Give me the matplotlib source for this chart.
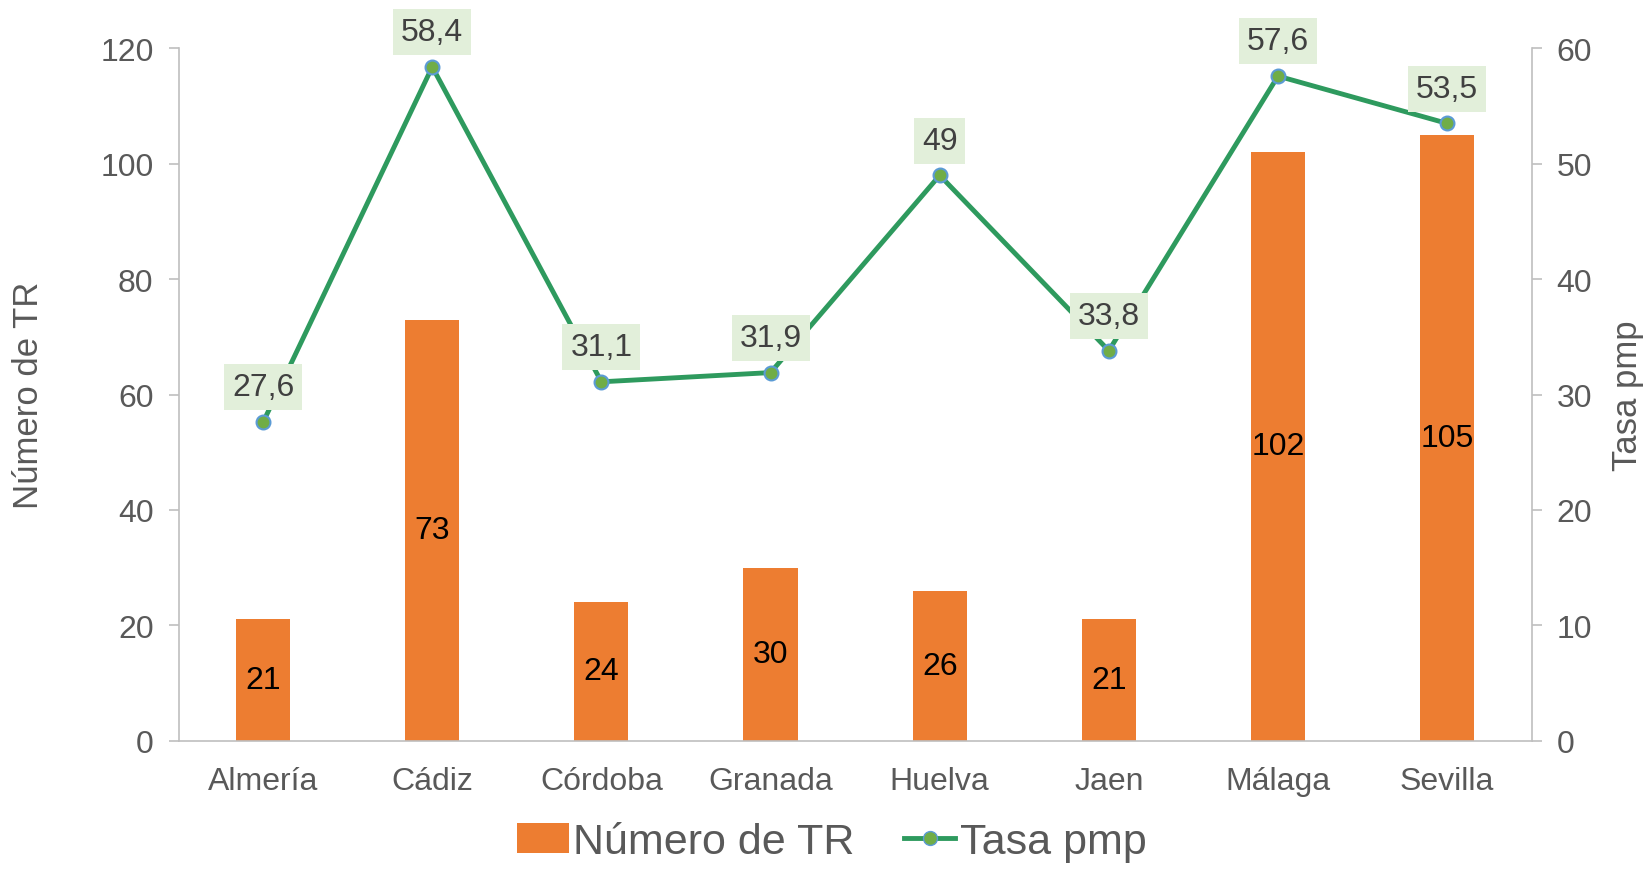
import matplotlib
matplotlib.use("Agg")
import matplotlib.pyplot as plt
from matplotlib.lines import Line2D
from matplotlib.patches import Patch

plt.rcParams['font.family'] = ['Liberation Sans', 'DejaVu Sans']

categories = ["Almería", "Cádiz", "Córdoba", "Granada", "Huelva", "Jaen", "Málaga", "Sevilla"]
numero_tr = [21, 73, 24, 30, 26, 21, 102, 105]
tasa_pmp = [27.6, 58.4, 31.1, 31.9, 49, 33.8, 57.6, 53.5]
tasa_labels = ["27,6", "58,4", "31,1", "31,9", "49", "33,8", "57,6", "53,5"]
left_ticks = [0, 20, 40, 60, 80, 100, 120]
right_ticks = [0, 10, 20, 30, 40, 50, 60]

bar_color = "#ED7D31"
line_color = "#2E9A5E"
marker_face = "#70AD47"
marker_edge = "#5B9BD5"
text_gray = "#595959"
spine_gray = "#BFBFBF"

fig = plt.figure(figsize=(16.47, 8.70), dpi=100)
ax = fig.add_axes([0.1084, 0.1476, 0.8216, 0.7956])
ax2 = ax.twinx()

x = list(range(len(categories)))
bars = ax.bar(x, numero_tr, width=0.32, color=bar_color, zorder=2)
for xi, v in zip(x, numero_tr):
    ax.text(xi, v / 2, str(v), ha="center", va="center", fontsize=23, color="black", zorder=3)

ax.set_xlim(-0.5, 7.5)
ax.set_ylim(0, 120)
ax.set_yticks(left_ticks)
ax.set_xticks(x)
ax.set_xticklabels(categories)
ax.tick_params(axis="x", length=0, labelsize=23, colors=text_gray, pad=18)
ax.tick_params(axis="y", length=7, width=1.2, color=spine_gray, labelsize=23, labelcolor=text_gray, pad=11)
ax.set_ylabel("Número de TR", fontsize=25, color=text_gray)
ax.yaxis.set_label_coords(-0.0986, 0.5)

ax2.plot(x, tasa_pmp, color=line_color, linewidth=3.5, marker="o", markersize=10,
         markerfacecolor=marker_face, markeredgecolor=marker_edge, markeredgewidth=1.5, zorder=4)
for xi, v, lab in zip(x, tasa_pmp, tasa_labels):
    ax2.annotate(lab, (xi, v), xytext=(0, 25), textcoords="offset points", ha="center", va="center",
                 fontsize=23, color="#404040",
                 bbox=dict(boxstyle="square,pad=0.25", facecolor="#E2EFDA", edgecolor="none"), zorder=5)
ax2.set_ylim(0, 60)
ax2.set_yticks(right_ticks)
ax2.tick_params(axis="y", length=7, width=1.2, color=spine_gray, labelsize=23, labelcolor=text_gray, pad=11)
ax2.set_ylabel("Tasa pmp", fontsize=25, color=text_gray, rotation=90)
ax2.yaxis.set_label_coords(1.0587, 0.5)

for a in (ax, ax2):
    a.spines["top"].set_visible(False)
    for s in ("left", "right", "bottom"):
        a.spines[s].set_color(spine_gray)
        a.spines[s].set_linewidth(1.2)
ax.spines["right"].set_visible(False)
ax2.spines["left"].set_visible(False)
ax2.spines["bottom"].set_visible(False)

handles = [Patch(facecolor=bar_color, edgecolor="none"),
           Line2D([0], [0], color=line_color, linewidth=3.5, marker="o", markersize=10,
                  markerfacecolor=marker_face, markeredgecolor=marker_edge)]
leg = fig.legend(handles, ["Número de TR", "Tasa pmp"], loc="center", bbox_to_anchor=(0.505, 0.031),
                 ncol=2, frameon=False, fontsize=31, handlelength=1.2, handletextpad=0.1, columnspacing=1.15)
for t in leg.get_texts():
    t.set_color(text_gray)

fig.savefig("out.png", dpi=100)
